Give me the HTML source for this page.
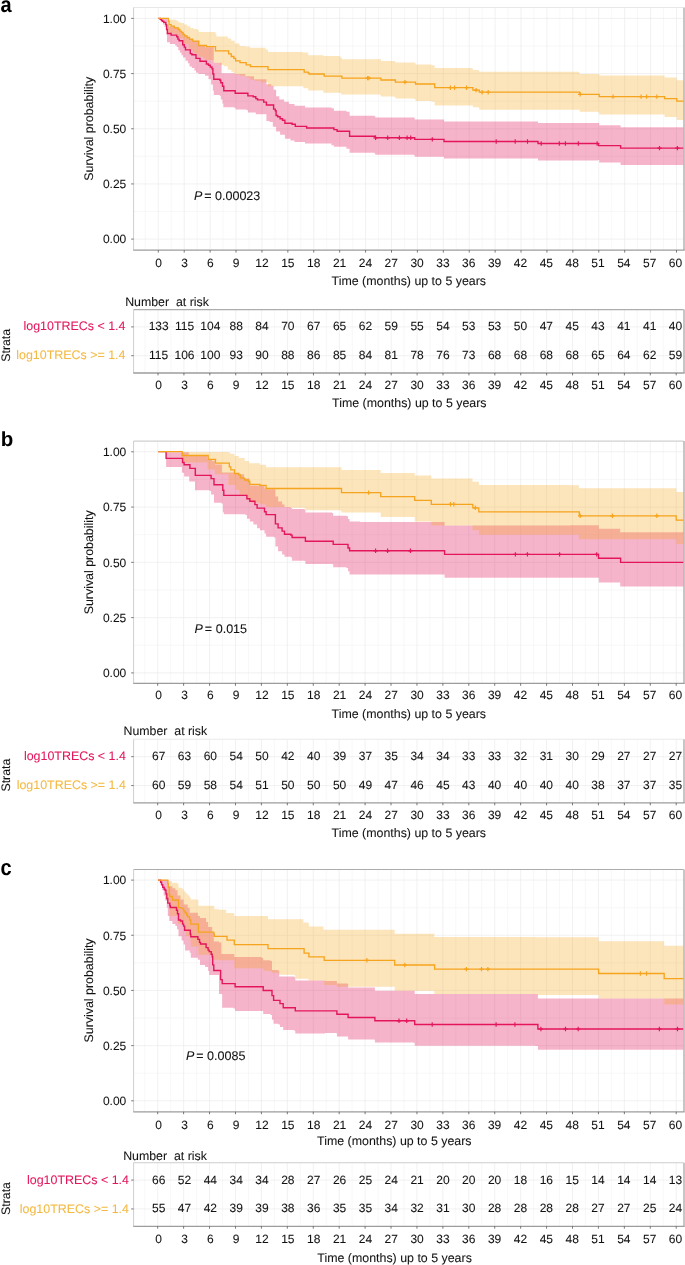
<!DOCTYPE html><html><head><meta charset="utf-8"><style>html,body{margin:0;padding:0;background:#fff;}svg{display:block;}text{font-family:"Liberation Sans", sans-serif;stroke-width:0.07px;paint-order:stroke;}</style></head><body>
<svg style="will-change:transform" text-rendering="geometricPrecision" width="685" height="1265" viewBox="0 0 685 1265">
<rect width="685" height="1265" fill="#fff"/>
<path d="M145.34 7.5V250.2M171.26 7.5V250.2M197.17 7.5V250.2M223.07 7.5V250.2M248.99 7.5V250.2M274.9 7.5V250.2M300.81 7.5V250.2M326.72 7.5V250.2M352.62 7.5V250.2M378.54 7.5V250.2M404.45 7.5V250.2M430.36 7.5V250.2M456.26 7.5V250.2M482.18 7.5V250.2M508.09 7.5V250.2M534 7.5V250.2M559.9 7.5V250.2M585.82 7.5V250.2M611.73 7.5V250.2M637.63 7.5V250.2M663.54 7.5V250.2M133.6 211.51H683.6M133.6 156.34H683.6M133.6 101.16H683.6M133.6 45.99H683.6" stroke="#F4F4F4" stroke-width="0.6" fill="none"/>
<path d="M158.3 7.5V250.2M184.21 7.5V250.2M210.12 7.5V250.2M236.03 7.5V250.2M261.94 7.5V250.2M287.85 7.5V250.2M313.76 7.5V250.2M339.67 7.5V250.2M365.58 7.5V250.2M391.49 7.5V250.2M417.4 7.5V250.2M443.31 7.5V250.2M469.22 7.5V250.2M495.13 7.5V250.2M521.04 7.5V250.2M546.95 7.5V250.2M572.86 7.5V250.2M598.77 7.5V250.2M624.68 7.5V250.2M650.59 7.5V250.2M676.5 7.5V250.2M133.6 239.1H683.6M133.6 183.93H683.6M133.6 128.75H683.6M133.6 73.58H683.6M133.6 18.4H683.6" stroke="#EBEBEB" stroke-width="0.7" fill="none"/>
<path d="M158.4 18.4H166V18.8H167.4V25H169V26.5H174.3V27.5H177.5V28H178.3V29.3H179.9V30.9H181.5V32.1H183.1V34.1H184.7V35.7H187.1V37.3H189.5V38.9H192.8V40.9H197.6V41.3H198.8V45.3H203.2V45.7H205V47.3H212.9V47.3H213.8V62.7H220.8V62.7H221.6V73.2H234.8V73.2H235.2V74H245.3V76.2H254V79.3H266.4V84.2H271.2V85.8H273.6V89.8H276.1V96.2H279.3V99.4H284.1V101.8H288.9V103.9H294.5V105.8H305V107.4H331.5V108.2H333.9V110.7H346.4V111.8H349.6V115.8H374.5V116.2H375.3V117.4H413.9V117.8H414.7V119.4H444V121.5H537.2V121.5H538V123.1H598.1V123H599.2V125.2H619.6V125.2H620.6V127.3H683.6V127.3L683.6 164.9V164.9H620.6V162.4H619.6V162.4H599.2V160H598.1V160.5H538V158.4H537.2V158.4H444V156.8H414.7V155.2H413.9V154.7H375.3V153.6H374.5V152.8H349.6V148.8H346.4V146.8H333.9V145.2H331.5V143.6H305V142H294.5V140.4H290.5V138.8H284.9V134.7H280.1V131.5H276.1V126.7H272.8V121.9H269.6V121.1H266.4V114.3H255.8V112.6H247.9V109.9H246.2V109.5H235.6V107.8H233.9V107.3H223.4V103.8H222.5V99.4H220.8V95.9H219.9V95.1H213.8V90.7H212.9V84.5H211.1V79.3H208.5V75.8H205V74H198.4V72.8H196V70.4H194.4V68H191.9V66.4H189.5V63.2H187.9V60.8H185.5V57.6H183.1V55.2H181.5V52.8H179.9V50.3H178.3V47.1H176.7V45.5H175.1V43.9H169.9V42.3H167V35.1H166.6V28.7H165.8V27H164.6V24.6H163V22.2H161.4V19.8H160.2V18.4H158.4Z" fill="#E3165B" fill-opacity="0.32"/>
<path d="M158.4 18.4H167.4V18.4H168.7V19H169.5V19.8H175.9V20.6H178.3V22.2H180.7V23H183.9V24.6H187.1V26.2H190.3V27.9H193.6V29.1H197.6V29.9H198.8V31.9H205V32H215.5V33.8H216.4V36.4H226V36.4H227.8V38.6H231.3V40.8H234.8V43.4H239.2V44.7H240V46H245.3V46.5H249.7V47.8H265.6V49.6H268V52H302.6V52.5H308.2V55.3H323.4V56.1H340.3V57.7H341.9V59.3H380.1V58.8H380.9V60.9H394.6V61.2H395.4V62.5H413.9V62.8H415.5V64.5H431.5V65.3H434.7V68H472.1V68.5H472.9V70.1H478.5V70.4H479.3V71.7H578.7V72.5H579.7V73.9H598.1V73.9H599.2V75.5H663.5V75.5H664.6V77.6H675.8V77.6H676.8V80.2H683.6V80.2L683.6 119.9V119.9H676.8V117H675.8V117H664.6V114.4H663.5V114.4H599.2V112.3H598.1V111.7H579.7V109.7H578.7V109.7H479.3V107.8H478.5V107.3H472.9V105.4H472.1V105.4H434.7V101.7H431.5V101.1H415.5V99H413.9V98.5H395.4V96.9H394.6V96.6H380.9V95H380.1V94.6H341.1V92.7H323.4V90.6H308.2V88.2H303.4V86.6H302.6V86.2H268V82.4H261V81H254.9V79.7H250.5V77.5H245.3V75.8H240V74.5H235.2V73H233.9V71.8H231.3V69.7H227.8V66.2H223.8V64.8H219.9V62.7H213.8V60H212.9V60H205V58.4H203.2V56.8H198.4V53.6H192.8V49.5H188.7V43.9H183.1V38.3H178.3V34.7H175.1V33.5H167.9V18.4H167.4V18.4H158.4Z" fill="#F5A41D" fill-opacity="0.3"/>
<path d="M158.4 18.4H160.2V19.4H161.4V20.5H162.6V21.4H163.8V22.4H165V22.4H165.8V24.6H166.6V29.5H167.4V33.5H171.1V35.1H175.1V35.1H176.7V36.7H177.9V39.1H179.1V40.7H181.1V40.7H182.7V44.7H184.3V47.1H185.5V49.9H188.7V49.9H190.3V53.6H191.9V54.8H194.8V54.8H196V58.4H200V61.2H204.4V61.2H206.4V64H208.5V65.3H210.3V67H212V68.8H212.9V74H213.8V79.3H219.9V80.2H220.8V82.8H222.5V86.3H223.8V90.7H233.9V90.7H235.2V93.3H246.2V93.3H247.9V95.9H253.2V96.8H255.8V98.6H257.5V99.9H261.9V99.9H263.7V102.1H266.4V105H271.2V105H273.6V109.1H275.3V110.7H276.1V115.5H277.7V116.8H280.1V118.7H282.5V120.3H284.9V123.2H290.5V123.2H292.1V124.3H294.5V124.3H295.3V126.4H305V126.4H306.6V128H331.5V128H333.9V129.6H337.1V131.2H346.4V131.2H349.6V136.2H374.5V136.2H375.3V137.8H413.9V137.8H414.7V139.4H444V141.5H537.2V141.5H538V143.5H597.1V143.5H598.5V145.6H619.6V145.6H620.6V148.1H683.6V148.1" stroke="#E3165B" stroke-width="1.4" fill="none"/>
<path d="M158.4 18.4H167.4V18.4H168.3V21.4H169.1V24.6H171.1V26.2H174.3V27.9H177.5V27.9H178.3V29.5H179.9V31.1H181.5V32.3H183.1V34.3H184.7V35.9H187.1V37.5H189.5V39.1H192.8V41.1H197.6V41.1H198.8V45.5H203.2V45.5H206.4V46.7H207.6V46.7H213.8V46.7H215.5V50.8H226V50.8H228.6V53.9H231.3V56.5H233.9V58.3H235.6V60.9H239.2V60.9H240V62.7H245.3V62.7H246.2V64.8H250.1V64.8H250.5V66.6H265.6V66.6H268V69.7H302.6V69.7H304.2V72.1H308.2V72.9H309V74H323.4V74H324.2V76.1H341.1V76.1H341.9V78.1H380.1V78.1H380.9V80H394.6V80H395.4V82.1H413.9V82.1H415.5V84H431.5V84H434.7V87.7H472.1V87.7H472.9V90.1H478.5V90.1H479.3V92.2H578.7V92.2H579.7V94.4H598.1V94.4H599.2V96.6H663.5V96.6H664.6V98.6H675.8V98.6H676.8V101.1H683.6V101.1" stroke="#F5A41D" stroke-width="1.3" fill="none"/>
<path d="M375.6 135.6V140M373.4 137.8H377.8" stroke="#E3165B" stroke-width="1.15"/>
<path d="M387.7 135.6V140M385.5 137.8H389.9" stroke="#E3165B" stroke-width="1.15"/>
<path d="M399.4 135.6V140M397.2 137.8H401.6" stroke="#E3165B" stroke-width="1.15"/>
<path d="M407.1 135.6V140M404.9 137.8H409.3" stroke="#E3165B" stroke-width="1.15"/>
<path d="M410.7 135.6V140M408.5 137.8H412.9" stroke="#E3165B" stroke-width="1.15"/>
<path d="M432.3 137.2V141.6M430.1 139.4H434.5" stroke="#E3165B" stroke-width="1.15"/>
<path d="M367.6 75.9V80.3M365.4 78.1H369.8" stroke="#F5A41D" stroke-width="1.15"/>
<path d="M368.9 75.9V80.3M366.7 78.1H371.1" stroke="#F5A41D" stroke-width="1.15"/>
<path d="M405 79.9V84.3M402.8 82.1H407.2" stroke="#F5A41D" stroke-width="1.15"/>
<path d="M496.2 139.3V143.7M494 141.5H498.4" stroke="#E3165B" stroke-width="1.15"/>
<path d="M515.2 139.3V143.7M513 141.5H517.4" stroke="#E3165B" stroke-width="1.15"/>
<path d="M527.5 139.3V143.7M525.3 141.5H529.7" stroke="#E3165B" stroke-width="1.15"/>
<path d="M541.2 141.3V145.7M539 143.5H543.4" stroke="#E3165B" stroke-width="1.15"/>
<path d="M450.4 85.5V89.9M448.2 87.7H452.6" stroke="#F5A41D" stroke-width="1.15"/>
<path d="M454.5 85.5V89.9M452.3 87.7H456.7" stroke="#F5A41D" stroke-width="1.15"/>
<path d="M466.5 85.5V89.9M464.3 87.7H468.7" stroke="#F5A41D" stroke-width="1.15"/>
<path d="M476.1 87.9V92.3M473.9 90.1H478.3" stroke="#F5A41D" stroke-width="1.15"/>
<path d="M482.1 90V94.4M479.9 92.2H484.3" stroke="#F5A41D" stroke-width="1.15"/>
<path d="M488.2 90V94.4M486 92.2H490.4" stroke="#F5A41D" stroke-width="1.15"/>
<path d="M559.3 141.3V145.7M557.1 143.5H561.5" stroke="#E3165B" stroke-width="1.15"/>
<path d="M565.4 141.3V145.7M563.2 143.5H567.6" stroke="#E3165B" stroke-width="1.15"/>
<path d="M578.3 141.3V145.7M576.1 143.5H580.5" stroke="#E3165B" stroke-width="1.15"/>
<path d="M597.1 141.3V145.7M594.9 143.5H599.3" stroke="#E3165B" stroke-width="1.15"/>
<path d="M659.5 145.9V150.3M657.3 148.1H661.7" stroke="#E3165B" stroke-width="1.15"/>
<path d="M677.4 145.9V150.3M675.2 148.1H679.6" stroke="#E3165B" stroke-width="1.15"/>
<path d="M580.2 92.2V96.6M578 94.4H582.4" stroke="#F5A41D" stroke-width="1.15"/>
<path d="M613.1 94.4V98.8M610.9 96.6H615.3" stroke="#F5A41D" stroke-width="1.15"/>
<path d="M641.1 94.4V98.8M638.9 96.6H643.3" stroke="#F5A41D" stroke-width="1.15"/>
<path d="M646.6 94.4V98.8M644.4 96.6H648.8" stroke="#F5A41D" stroke-width="1.15"/>
<path d="M656.8 94.4V98.8M654.6 96.6H659" stroke="#F5A41D" stroke-width="1.15"/>
<path d="M133.6 7.5H683.6" stroke="#E8E8E8" stroke-width="1.1" fill="none"/>
<path d="M133.6 250.2V7.5" stroke="#C2C2C2" stroke-width="0.8" fill="none"/>
<path d="M684 7.5V250.2" stroke="#A8A8A8" stroke-width="1.3" fill="none"/>
<path d="M133.3 250.2H684.6" stroke="#9C9C9C" stroke-width="1.2" fill="none"/>
<path d="M131.2 239.1H133.6M131.2 183.93H133.6M131.2 128.75H133.6M131.2 73.58H133.6M131.2 18.4H133.6M158.3 250.2V252.6M184.21 250.2V252.6M210.12 250.2V252.6M236.03 250.2V252.6M261.94 250.2V252.6M287.85 250.2V252.6M313.76 250.2V252.6M339.67 250.2V252.6M365.58 250.2V252.6M391.49 250.2V252.6M417.4 250.2V252.6M443.31 250.2V252.6M469.22 250.2V252.6M495.13 250.2V252.6M521.04 250.2V252.6M546.95 250.2V252.6M572.86 250.2V252.6M598.77 250.2V252.6M624.68 250.2V252.6M650.59 250.2V252.6M676.5 250.2V252.6" stroke="#555" stroke-width="0.8" fill="none"/>
<text x="126.3" y="243.4" font-size="12" text-anchor="end" fill="#111" stroke="#111">0.00</text>
<text x="126.3" y="188.23" font-size="12" text-anchor="end" fill="#111" stroke="#111">0.25</text>
<text x="126.3" y="133.05" font-size="12" text-anchor="end" fill="#111" stroke="#111">0.50</text>
<text x="126.3" y="77.88" font-size="12" text-anchor="end" fill="#111" stroke="#111">0.75</text>
<text x="126.3" y="22.7" font-size="12" text-anchor="end" fill="#111" stroke="#111">1.00</text>
<text x="158.65" y="266.8" font-size="12" text-anchor="middle" fill="#111" stroke="#111">0</text>
<text x="184.5" y="266.8" font-size="12" text-anchor="middle" fill="#111" stroke="#111">3</text>
<text x="210.34" y="266.8" font-size="12" text-anchor="middle" fill="#111" stroke="#111">6</text>
<text x="236.19" y="266.8" font-size="12" text-anchor="middle" fill="#111" stroke="#111">9</text>
<text x="262.03" y="266.8" font-size="12" text-anchor="middle" fill="#111" stroke="#111">12</text>
<text x="287.88" y="266.8" font-size="12" text-anchor="middle" fill="#111" stroke="#111">15</text>
<text x="313.72" y="266.8" font-size="12" text-anchor="middle" fill="#111" stroke="#111">18</text>
<text x="339.56" y="266.8" font-size="12" text-anchor="middle" fill="#111" stroke="#111">21</text>
<text x="365.41" y="266.8" font-size="12" text-anchor="middle" fill="#111" stroke="#111">24</text>
<text x="391.25" y="266.8" font-size="12" text-anchor="middle" fill="#111" stroke="#111">27</text>
<text x="417.1" y="266.8" font-size="12" text-anchor="middle" fill="#111" stroke="#111">30</text>
<text x="442.95" y="266.8" font-size="12" text-anchor="middle" fill="#111" stroke="#111">33</text>
<text x="468.79" y="266.8" font-size="12" text-anchor="middle" fill="#111" stroke="#111">36</text>
<text x="494.63" y="266.8" font-size="12" text-anchor="middle" fill="#111" stroke="#111">39</text>
<text x="520.48" y="266.8" font-size="12" text-anchor="middle" fill="#111" stroke="#111">42</text>
<text x="546.32" y="266.8" font-size="12" text-anchor="middle" fill="#111" stroke="#111">45</text>
<text x="572.17" y="266.8" font-size="12" text-anchor="middle" fill="#111" stroke="#111">48</text>
<text x="598.01" y="266.8" font-size="12" text-anchor="middle" fill="#111" stroke="#111">51</text>
<text x="623.86" y="266.8" font-size="12" text-anchor="middle" fill="#111" stroke="#111">54</text>
<text x="649.71" y="266.8" font-size="12" text-anchor="middle" fill="#111" stroke="#111">57</text>
<text x="675.55" y="266.8" font-size="12" text-anchor="middle" fill="#111" stroke="#111">60</text>
<text x="408.8" y="285.2" font-size="12.4" text-anchor="middle" fill="#111" stroke="#111">Time (months) up to 5 years</text>
<text transform="translate(92.9 128.75) rotate(-90)" font-size="12.4" text-anchor="middle" fill="#111" stroke="#111">Survival probability</text>
<text x="193.9" y="199.6" font-size="12.55" fill="#111" stroke="#111"><tspan font-style="italic">P</tspan><tspan dx="-1.6">&#160;= 0.00023</tspan></text>
<path d="M145.04 309.6V373M170.96 309.6V373M196.87 309.6V373M222.77 309.6V373M248.69 309.6V373M274.6 309.6V373M300.5 309.6V373M326.41 309.6V373M352.33 309.6V373M378.24 309.6V373M404.14 309.6V373M430.06 309.6V373M455.96 309.6V373M481.88 309.6V373M507.79 309.6V373M533.69 309.6V373M559.61 309.6V373M585.52 309.6V373M611.42 309.6V373M637.34 309.6V373M663.24 309.6V373" stroke="#F4F4F4" stroke-width="0.6" fill="none"/>
<path d="M158 309.6V373M183.91 309.6V373M209.82 309.6V373M235.73 309.6V373M261.64 309.6V373M287.55 309.6V373M313.46 309.6V373M339.37 309.6V373M365.28 309.6V373M391.19 309.6V373M417.1 309.6V373M443.01 309.6V373M468.92 309.6V373M494.83 309.6V373M520.74 309.6V373M546.65 309.6V373M572.56 309.6V373M598.47 309.6V373M624.38 309.6V373M650.29 309.6V373M676.2 309.6V373M133.6 326.89H683.6M133.6 355.71H683.6" stroke="#EBEBEB" stroke-width="0.7" fill="none"/>
<path d="M133.6 309.6H683.6" stroke="#ADADAD" stroke-width="1.1" fill="none"/>
<path d="M133.6 373V309.6" stroke="#C2C2C2" stroke-width="0.8" fill="none"/>
<path d="M684 309.6V373" stroke="#A8A8A8" stroke-width="1.3" fill="none"/>
<path d="M133.3 373H684.6" stroke="#9C9C9C" stroke-width="1.3" fill="none"/>
<path d="M131.2 326.89H133.6M131.2 355.71H133.6M158 373V375.4M183.91 373V375.4M209.82 373V375.4M235.73 373V375.4M261.64 373V375.4M287.55 373V375.4M313.46 373V375.4M339.37 373V375.4M365.28 373V375.4M391.19 373V375.4M417.1 373V375.4M443.01 373V375.4M468.92 373V375.4M494.83 373V375.4M520.74 373V375.4M546.65 373V375.4M572.56 373V375.4M598.47 373V375.4M624.38 373V375.4M650.29 373V375.4M676.2 373V375.4" stroke="#555" stroke-width="0.8" fill="none"/>
<text x="158.65" y="330.39" font-size="12" text-anchor="middle" fill="#111" stroke="#111">133</text>
<text x="184.5" y="330.39" font-size="12" text-anchor="middle" fill="#111" stroke="#111">115</text>
<text x="210.34" y="330.39" font-size="12" text-anchor="middle" fill="#111" stroke="#111">104</text>
<text x="236.19" y="330.39" font-size="12" text-anchor="middle" fill="#111" stroke="#111">88</text>
<text x="262.03" y="330.39" font-size="12" text-anchor="middle" fill="#111" stroke="#111">84</text>
<text x="287.88" y="330.39" font-size="12" text-anchor="middle" fill="#111" stroke="#111">70</text>
<text x="313.72" y="330.39" font-size="12" text-anchor="middle" fill="#111" stroke="#111">67</text>
<text x="339.56" y="330.39" font-size="12" text-anchor="middle" fill="#111" stroke="#111">65</text>
<text x="365.41" y="330.39" font-size="12" text-anchor="middle" fill="#111" stroke="#111">62</text>
<text x="391.25" y="330.39" font-size="12" text-anchor="middle" fill="#111" stroke="#111">59</text>
<text x="417.1" y="330.39" font-size="12" text-anchor="middle" fill="#111" stroke="#111">55</text>
<text x="442.95" y="330.39" font-size="12" text-anchor="middle" fill="#111" stroke="#111">54</text>
<text x="468.79" y="330.39" font-size="12" text-anchor="middle" fill="#111" stroke="#111">53</text>
<text x="494.63" y="330.39" font-size="12" text-anchor="middle" fill="#111" stroke="#111">53</text>
<text x="520.48" y="330.39" font-size="12" text-anchor="middle" fill="#111" stroke="#111">50</text>
<text x="546.32" y="330.39" font-size="12" text-anchor="middle" fill="#111" stroke="#111">47</text>
<text x="572.17" y="330.39" font-size="12" text-anchor="middle" fill="#111" stroke="#111">45</text>
<text x="598.01" y="330.39" font-size="12" text-anchor="middle" fill="#111" stroke="#111">43</text>
<text x="623.86" y="330.39" font-size="12" text-anchor="middle" fill="#111" stroke="#111">41</text>
<text x="649.71" y="330.39" font-size="12" text-anchor="middle" fill="#111" stroke="#111">41</text>
<text x="675.55" y="330.39" font-size="12" text-anchor="middle" fill="#111" stroke="#111">40</text>
<text x="158.65" y="359.21" font-size="12" text-anchor="middle" fill="#111" stroke="#111">115</text>
<text x="184.5" y="359.21" font-size="12" text-anchor="middle" fill="#111" stroke="#111">106</text>
<text x="210.34" y="359.21" font-size="12" text-anchor="middle" fill="#111" stroke="#111">100</text>
<text x="236.19" y="359.21" font-size="12" text-anchor="middle" fill="#111" stroke="#111">93</text>
<text x="262.03" y="359.21" font-size="12" text-anchor="middle" fill="#111" stroke="#111">90</text>
<text x="287.88" y="359.21" font-size="12" text-anchor="middle" fill="#111" stroke="#111">88</text>
<text x="313.72" y="359.21" font-size="12" text-anchor="middle" fill="#111" stroke="#111">86</text>
<text x="339.56" y="359.21" font-size="12" text-anchor="middle" fill="#111" stroke="#111">85</text>
<text x="365.41" y="359.21" font-size="12" text-anchor="middle" fill="#111" stroke="#111">84</text>
<text x="391.25" y="359.21" font-size="12" text-anchor="middle" fill="#111" stroke="#111">81</text>
<text x="417.1" y="359.21" font-size="12" text-anchor="middle" fill="#111" stroke="#111">78</text>
<text x="442.95" y="359.21" font-size="12" text-anchor="middle" fill="#111" stroke="#111">76</text>
<text x="468.79" y="359.21" font-size="12" text-anchor="middle" fill="#111" stroke="#111">73</text>
<text x="494.63" y="359.21" font-size="12" text-anchor="middle" fill="#111" stroke="#111">68</text>
<text x="520.48" y="359.21" font-size="12" text-anchor="middle" fill="#111" stroke="#111">68</text>
<text x="546.32" y="359.21" font-size="12" text-anchor="middle" fill="#111" stroke="#111">68</text>
<text x="572.17" y="359.21" font-size="12" text-anchor="middle" fill="#111" stroke="#111">68</text>
<text x="598.01" y="359.21" font-size="12" text-anchor="middle" fill="#111" stroke="#111">65</text>
<text x="623.86" y="359.21" font-size="12" text-anchor="middle" fill="#111" stroke="#111">64</text>
<text x="649.71" y="359.21" font-size="12" text-anchor="middle" fill="#111" stroke="#111">62</text>
<text x="675.55" y="359.21" font-size="12" text-anchor="middle" fill="#111" stroke="#111">59</text>
<text x="125.5" y="329.89" font-size="12.45" text-anchor="end" fill="#E3165B" stroke="#E3165B">log10TRECs &lt; 1.4</text>
<text x="125.5" y="358.71" font-size="12.45" text-anchor="end" fill="#F4B942" stroke="#F4B942">log10TRECs &gt;= 1.4</text>
<text transform="translate(9.6 345.3) rotate(-90)" font-size="12.3" text-anchor="middle" fill="#111" stroke="#111">Strata</text>
<text x="125.2" y="305.8" font-size="12.35" fill="#111" stroke="#111" style="white-space:pre">Number  at risk</text>
<text x="158.65" y="388.7" font-size="12" text-anchor="middle" fill="#111" stroke="#111">0</text>
<text x="184.5" y="388.7" font-size="12" text-anchor="middle" fill="#111" stroke="#111">3</text>
<text x="210.34" y="388.7" font-size="12" text-anchor="middle" fill="#111" stroke="#111">6</text>
<text x="236.19" y="388.7" font-size="12" text-anchor="middle" fill="#111" stroke="#111">9</text>
<text x="262.03" y="388.7" font-size="12" text-anchor="middle" fill="#111" stroke="#111">12</text>
<text x="287.88" y="388.7" font-size="12" text-anchor="middle" fill="#111" stroke="#111">15</text>
<text x="313.72" y="388.7" font-size="12" text-anchor="middle" fill="#111" stroke="#111">18</text>
<text x="339.56" y="388.7" font-size="12" text-anchor="middle" fill="#111" stroke="#111">21</text>
<text x="365.41" y="388.7" font-size="12" text-anchor="middle" fill="#111" stroke="#111">24</text>
<text x="391.25" y="388.7" font-size="12" text-anchor="middle" fill="#111" stroke="#111">27</text>
<text x="417.1" y="388.7" font-size="12" text-anchor="middle" fill="#111" stroke="#111">30</text>
<text x="442.95" y="388.7" font-size="12" text-anchor="middle" fill="#111" stroke="#111">33</text>
<text x="468.79" y="388.7" font-size="12" text-anchor="middle" fill="#111" stroke="#111">36</text>
<text x="494.63" y="388.7" font-size="12" text-anchor="middle" fill="#111" stroke="#111">39</text>
<text x="520.48" y="388.7" font-size="12" text-anchor="middle" fill="#111" stroke="#111">42</text>
<text x="546.32" y="388.7" font-size="12" text-anchor="middle" fill="#111" stroke="#111">45</text>
<text x="572.17" y="388.7" font-size="12" text-anchor="middle" fill="#111" stroke="#111">48</text>
<text x="598.01" y="388.7" font-size="12" text-anchor="middle" fill="#111" stroke="#111">51</text>
<text x="623.86" y="388.7" font-size="12" text-anchor="middle" fill="#111" stroke="#111">54</text>
<text x="649.71" y="388.7" font-size="12" text-anchor="middle" fill="#111" stroke="#111">57</text>
<text x="675.55" y="388.7" font-size="12" text-anchor="middle" fill="#111" stroke="#111">60</text>
<text x="409.3" y="407.4" font-size="12.4" text-anchor="middle" fill="#111" stroke="#111">Time (months) up to 5 years</text>
<path d="M144.74 441.1V683.4M170.66 441.1V683.4M196.59 441.1V683.4M222.51 441.1V683.4M248.44 441.1V683.4M274.36 441.1V683.4M300.29 441.1V683.4M326.21 441.1V683.4M352.14 441.1V683.4M378.06 441.1V683.4M403.99 441.1V683.4M429.91 441.1V683.4M455.84 441.1V683.4M481.76 441.1V683.4M507.69 441.1V683.4M533.61 441.1V683.4M559.54 441.1V683.4M585.46 441.1V683.4M611.39 441.1V683.4M637.31 441.1V683.4M663.24 441.1V683.4M133.6 645.26H683.6M133.6 589.99H683.6M133.6 534.71H683.6M133.6 479.44H683.6" stroke="#F4F4F4" stroke-width="0.6" fill="none"/>
<path d="M157.7 441.1V683.4M183.62 441.1V683.4M209.55 441.1V683.4M235.47 441.1V683.4M261.4 441.1V683.4M287.32 441.1V683.4M313.25 441.1V683.4M339.18 441.1V683.4M365.1 441.1V683.4M391.02 441.1V683.4M416.95 441.1V683.4M442.88 441.1V683.4M468.8 441.1V683.4M494.73 441.1V683.4M520.65 441.1V683.4M546.58 441.1V683.4M572.5 441.1V683.4M598.42 441.1V683.4M624.35 441.1V683.4M650.28 441.1V683.4M676.2 441.1V683.4M133.6 672.9H683.6M133.6 617.62H683.6M133.6 562.35H683.6M133.6 507.07H683.6M133.6 451.8H683.6" stroke="#EBEBEB" stroke-width="0.7" fill="none"/>
<path d="M158 451.8H166.1V452.3H188.8V456.1H207.4V459.3H212V460.8H214.9V464.5H221.9V472.5H233.9V472.9H239V474.3H244.1V478.4H249.6V481.6H250V485.5H259.9V485.1H260V485H262.8V485.3H264.5V488.5H266.1V489.3H274.1V489.3H275.4V496.6H278.1V501.4H282.1V504.6H284.5V507H290.9V508.1H292.1V509.1H304.6V509.7H305.4V512.6H331.9V512.9H333.2V515.8H346.4V516.2H348V519.1H349.6V521.5H360V521.9H444.1V521.9H444.6V525.5H465V525.5H569.9V525.2H598.1V525.2H598.8V528.7H619.6V528.7H620.2V532.2H683.6V532.2L683.6 586.5V586.5H620.2V582.4H619.6V582.4H598.8V577.7H598.1V577.7H569.9V577.7H465V577.7H444.6V574.5H444.1V574.5H360V574.5H349.6V571.2H348V568H346.4V567.2H333.2V564.3H331.9V564H305.4V561.1H304.6V560.8H292.1V557.6H290.9V556.8H284.5V554.4H282.1V551.2H278.1V546.4H275.4V537.5H274.1V536.7H266.1V533.5H264.5V530.3H262.8V530.3H260V528.2H257.1V524.6H253.4V521.6H249.8V518.7H246.9V515.1H245.4V514.3H223.8V512.2H222.8V503.4H221.3V502.7H214V494.6H211.1V491H209.6V490.3H195V481.5H189.2V476.4H184.1V472.7H181.9V466.9H181.2V466.9H166.1V451.6H165.5V451.6H158.4Z" fill="#E3165B" fill-opacity="0.32"/>
<path d="M158.4 451.6H181.9V451.6H182.6V452H228.6V452.6H230.1V453.8H234.5V455.9H238.8V458.1H244.7V461.1H249.1V463.2H260V464.8H265.3V464.8H266.1V467.3H340.7V467.3H341.5V470.1H360V470.1H379.9V470.1H380.7V473H414.1V473H414.7V475.4H430.5V475.4H431.3V478.6H465V478.6H472V478.6H472.5V481.8H478.5V481.8H478.9V485H569.9V485.2H578.3V485.2H578.9V488.2H675.8V488.2H676.4V491.9H683.6V491.9L683.6 544V544H676.4V539.3H675.8V539.3H578.9V534.8H578.3V534.8H569.9V534.8H478.9V530.3H478.5V530.3H472.5V525.5H472V525.5H465V525.5H431.3V521.5H430.5V521.5H414.7V517.1H414.1V517.1H380.7V512.6H379.9V512.6H360V512.6H341.5V511H340.7V510.2H305.4V508.6H304.6V507.8H290.1V507H266.1V504.6H265.3V504.3H260V504H259.9V502.4H250V499.5H247V495.1H239.4V489.7H235.7V484.9H228.4V474.3H214.9V469.6H212V469.3H207.4V462.6H181.4V451.8H158Z" fill="#F5A41D" fill-opacity="0.3"/>
<path d="M158.4 451.6H165.5V451.6H166.1V458.4H181.2V458.4H182.6V462.5H184.1V464.7H188.5V464.7H189.9V468.4H194.3V468.4H195.3V475.4H209.6V475.4H211.1V478.6H213.3V478.6H214V484.7H221.3V484.7H222.8V490.3H223.8V495.4H245.4V495.4H246.9V498.7H249.8V501.2H253.4V501.2H254.9V504.6H257.1V508.1H260V508.1H262.8V508.1H264.5V511.8H266.1V514.6H274.1V514.6H275.4V523.9H278.1V527.9H282.1V531.1H284.5V534.3H290.9V535.1H292.1V537.5H304.6V537.5H305.4V541.2H331.9V541.2H333.2V544.4H346.4V544.4H348V548H349.6V550.8H360V550.8H444.1V550.8H444.6V554.4H465V554.4H569.9V554.4H597.1V554.4H598.5V558.3H619.6V558.3H620.6V562.4H683.6V562.4" stroke="#E3165B" stroke-width="1.4" fill="none"/>
<path d="M158.4 451.6H181.6V451.6H182.2V455.5H207.4V455.5H208.2V459.3H214.7V459.3H215.5V463.2H227.9V463.2H229.3V466.9H230.8V469.8H234.5V473.5H238.8V474.9H240.3V477.8H243.9V478.6H244.7V480H248.3V481.5H249.8V484.4H260V485.3H264.5V485.3H266.1V488.5H340.7V488.5H341.5V492.6H360V492.6H379.9V492.6H380.7V496.6H414.4V496.6H414.7V500.3H430.5V500.3H431.3V504.3H465V504.3H472V504.3H472.8V507.8H477.7V507.8H478.8V511.8H569.9V511.8H578.3V511.8H579.3V515.8H675.4V515.8H676.2V520.1H683.6V520.1" stroke="#F5A41D" stroke-width="1.3" fill="none"/>
<path d="M375.6 548.6V553M373.4 550.8H377.8" stroke="#E3165B" stroke-width="1.15"/>
<path d="M387.6 548.6V553M385.4 550.8H389.8" stroke="#E3165B" stroke-width="1.15"/>
<path d="M410.4 548.6V553M408.2 550.8H412.6" stroke="#E3165B" stroke-width="1.15"/>
<path d="M368.6 490.4V494.8M366.4 492.6H370.8" stroke="#F5A41D" stroke-width="1.15"/>
<path d="M450.5 502.1V506.5M448.3 504.3H452.7" stroke="#F5A41D" stroke-width="1.15"/>
<path d="M453.8 502.1V506.5M451.6 504.3H456" stroke="#F5A41D" stroke-width="1.15"/>
<path d="M515.4 552.2V556.6M513.2 554.4H517.6" stroke="#E3165B" stroke-width="1.15"/>
<path d="M527.4 552.2V556.6M525.2 554.4H529.6" stroke="#E3165B" stroke-width="1.15"/>
<path d="M559.6 552.2V556.6M557.4 554.4H561.8" stroke="#E3165B" stroke-width="1.15"/>
<path d="M475.3 505.6V510M473.1 507.8H477.5" stroke="#F5A41D" stroke-width="1.15"/>
<path d="M596.7 552.2V556.6M594.5 554.4H598.9" stroke="#E3165B" stroke-width="1.15"/>
<path d="M580.2 513.6V518M578 515.8H582.4" stroke="#F5A41D" stroke-width="1.15"/>
<path d="M612.4 513.6V518M610.2 515.8H614.6" stroke="#F5A41D" stroke-width="1.15"/>
<path d="M656.8 513.6V518M654.6 515.8H659" stroke="#F5A41D" stroke-width="1.15"/>
<path d="M133.6 441.1H683.6" stroke="#D0D0D0" stroke-width="1.1" fill="none"/>
<path d="M133.6 683.4V441.1" stroke="#C2C2C2" stroke-width="0.8" fill="none"/>
<path d="M684 441.1V683.4" stroke="#A8A8A8" stroke-width="1.3" fill="none"/>
<path d="M133.3 683.4H684.6" stroke="#9C9C9C" stroke-width="1.2" fill="none"/>
<path d="M131.2 672.9H133.6M131.2 617.62H133.6M131.2 562.35H133.6M131.2 507.07H133.6M131.2 451.8H133.6M157.7 683.4V685.8M183.62 683.4V685.8M209.55 683.4V685.8M235.47 683.4V685.8M261.4 683.4V685.8M287.32 683.4V685.8M313.25 683.4V685.8M339.18 683.4V685.8M365.1 683.4V685.8M391.02 683.4V685.8M416.95 683.4V685.8M442.88 683.4V685.8M468.8 683.4V685.8M494.73 683.4V685.8M520.65 683.4V685.8M546.58 683.4V685.8M572.5 683.4V685.8M598.42 683.4V685.8M624.35 683.4V685.8M650.28 683.4V685.8M676.2 683.4V685.8" stroke="#555" stroke-width="0.8" fill="none"/>
<text x="126.3" y="677.2" font-size="12" text-anchor="end" fill="#111" stroke="#111">0.00</text>
<text x="126.3" y="621.92" font-size="12" text-anchor="end" fill="#111" stroke="#111">0.25</text>
<text x="126.3" y="566.65" font-size="12" text-anchor="end" fill="#111" stroke="#111">0.50</text>
<text x="126.3" y="511.38" font-size="12" text-anchor="end" fill="#111" stroke="#111">0.75</text>
<text x="126.3" y="456.1" font-size="12" text-anchor="end" fill="#111" stroke="#111">1.00</text>
<text x="158.65" y="699.3" font-size="12" text-anchor="middle" fill="#111" stroke="#111">0</text>
<text x="184.5" y="699.3" font-size="12" text-anchor="middle" fill="#111" stroke="#111">3</text>
<text x="210.34" y="699.3" font-size="12" text-anchor="middle" fill="#111" stroke="#111">6</text>
<text x="236.19" y="699.3" font-size="12" text-anchor="middle" fill="#111" stroke="#111">9</text>
<text x="262.03" y="699.3" font-size="12" text-anchor="middle" fill="#111" stroke="#111">12</text>
<text x="287.88" y="699.3" font-size="12" text-anchor="middle" fill="#111" stroke="#111">15</text>
<text x="313.72" y="699.3" font-size="12" text-anchor="middle" fill="#111" stroke="#111">18</text>
<text x="339.56" y="699.3" font-size="12" text-anchor="middle" fill="#111" stroke="#111">21</text>
<text x="365.41" y="699.3" font-size="12" text-anchor="middle" fill="#111" stroke="#111">24</text>
<text x="391.25" y="699.3" font-size="12" text-anchor="middle" fill="#111" stroke="#111">27</text>
<text x="417.1" y="699.3" font-size="12" text-anchor="middle" fill="#111" stroke="#111">30</text>
<text x="442.95" y="699.3" font-size="12" text-anchor="middle" fill="#111" stroke="#111">33</text>
<text x="468.79" y="699.3" font-size="12" text-anchor="middle" fill="#111" stroke="#111">36</text>
<text x="494.63" y="699.3" font-size="12" text-anchor="middle" fill="#111" stroke="#111">39</text>
<text x="520.48" y="699.3" font-size="12" text-anchor="middle" fill="#111" stroke="#111">42</text>
<text x="546.32" y="699.3" font-size="12" text-anchor="middle" fill="#111" stroke="#111">45</text>
<text x="572.17" y="699.3" font-size="12" text-anchor="middle" fill="#111" stroke="#111">48</text>
<text x="598.01" y="699.3" font-size="12" text-anchor="middle" fill="#111" stroke="#111">51</text>
<text x="623.86" y="699.3" font-size="12" text-anchor="middle" fill="#111" stroke="#111">54</text>
<text x="649.71" y="699.3" font-size="12" text-anchor="middle" fill="#111" stroke="#111">57</text>
<text x="675.55" y="699.3" font-size="12" text-anchor="middle" fill="#111" stroke="#111">60</text>
<text x="408.8" y="717.9" font-size="12.4" text-anchor="middle" fill="#111" stroke="#111">Time (months) up to 5 years</text>
<text transform="translate(92.9 562.35) rotate(-90)" font-size="12.4" text-anchor="middle" fill="#111" stroke="#111">Survival probability</text>
<text x="194.6" y="632.7" font-size="12.55" fill="#111" stroke="#111"><tspan font-style="italic">P</tspan><tspan dx="-1.6">&#160;= 0.015</tspan></text>
<path d="M144.74 739.3V802.9M170.66 739.3V802.9M196.59 739.3V802.9M222.51 739.3V802.9M248.44 739.3V802.9M274.36 739.3V802.9M300.29 739.3V802.9M326.21 739.3V802.9M352.14 739.3V802.9M378.06 739.3V802.9M403.99 739.3V802.9M429.91 739.3V802.9M455.84 739.3V802.9M481.76 739.3V802.9M507.69 739.3V802.9M533.61 739.3V802.9M559.54 739.3V802.9M585.46 739.3V802.9M611.39 739.3V802.9M637.31 739.3V802.9M663.24 739.3V802.9" stroke="#F4F4F4" stroke-width="0.6" fill="none"/>
<path d="M157.7 739.3V802.9M183.62 739.3V802.9M209.55 739.3V802.9M235.47 739.3V802.9M261.4 739.3V802.9M287.32 739.3V802.9M313.25 739.3V802.9M339.18 739.3V802.9M365.1 739.3V802.9M391.02 739.3V802.9M416.95 739.3V802.9M442.88 739.3V802.9M468.8 739.3V802.9M494.73 739.3V802.9M520.65 739.3V802.9M546.58 739.3V802.9M572.5 739.3V802.9M598.42 739.3V802.9M624.35 739.3V802.9M650.28 739.3V802.9M676.2 739.3V802.9M133.6 756.65H683.6M133.6 785.55H683.6" stroke="#EBEBEB" stroke-width="0.7" fill="none"/>
<path d="M133.6 739.3H683.6" stroke="#EAEAEA" stroke-width="1.1" fill="none"/>
<path d="M133.6 802.9V739.3" stroke="#C2C2C2" stroke-width="0.8" fill="none"/>
<path d="M684 739.3V802.9" stroke="#A8A8A8" stroke-width="1.3" fill="none"/>
<path d="M133.3 802.9H684.6" stroke="#9C9C9C" stroke-width="1.3" fill="none"/>
<path d="M131.2 756.65H133.6M131.2 785.55H133.6M157.7 802.9V805.3M183.62 802.9V805.3M209.55 802.9V805.3M235.47 802.9V805.3M261.4 802.9V805.3M287.32 802.9V805.3M313.25 802.9V805.3M339.18 802.9V805.3M365.1 802.9V805.3M391.02 802.9V805.3M416.95 802.9V805.3M442.88 802.9V805.3M468.8 802.9V805.3M494.73 802.9V805.3M520.65 802.9V805.3M546.58 802.9V805.3M572.5 802.9V805.3M598.42 802.9V805.3M624.35 802.9V805.3M650.28 802.9V805.3M676.2 802.9V805.3" stroke="#555" stroke-width="0.8" fill="none"/>
<text x="158.65" y="760.15" font-size="12" text-anchor="middle" fill="#111" stroke="#111">67</text>
<text x="184.5" y="760.15" font-size="12" text-anchor="middle" fill="#111" stroke="#111">63</text>
<text x="210.34" y="760.15" font-size="12" text-anchor="middle" fill="#111" stroke="#111">60</text>
<text x="236.19" y="760.15" font-size="12" text-anchor="middle" fill="#111" stroke="#111">54</text>
<text x="262.03" y="760.15" font-size="12" text-anchor="middle" fill="#111" stroke="#111">50</text>
<text x="287.88" y="760.15" font-size="12" text-anchor="middle" fill="#111" stroke="#111">42</text>
<text x="313.72" y="760.15" font-size="12" text-anchor="middle" fill="#111" stroke="#111">40</text>
<text x="339.56" y="760.15" font-size="12" text-anchor="middle" fill="#111" stroke="#111">39</text>
<text x="365.41" y="760.15" font-size="12" text-anchor="middle" fill="#111" stroke="#111">37</text>
<text x="391.25" y="760.15" font-size="12" text-anchor="middle" fill="#111" stroke="#111">35</text>
<text x="417.1" y="760.15" font-size="12" text-anchor="middle" fill="#111" stroke="#111">34</text>
<text x="442.95" y="760.15" font-size="12" text-anchor="middle" fill="#111" stroke="#111">34</text>
<text x="468.79" y="760.15" font-size="12" text-anchor="middle" fill="#111" stroke="#111">33</text>
<text x="494.63" y="760.15" font-size="12" text-anchor="middle" fill="#111" stroke="#111">33</text>
<text x="520.48" y="760.15" font-size="12" text-anchor="middle" fill="#111" stroke="#111">32</text>
<text x="546.32" y="760.15" font-size="12" text-anchor="middle" fill="#111" stroke="#111">31</text>
<text x="572.17" y="760.15" font-size="12" text-anchor="middle" fill="#111" stroke="#111">30</text>
<text x="598.01" y="760.15" font-size="12" text-anchor="middle" fill="#111" stroke="#111">29</text>
<text x="623.86" y="760.15" font-size="12" text-anchor="middle" fill="#111" stroke="#111">27</text>
<text x="649.71" y="760.15" font-size="12" text-anchor="middle" fill="#111" stroke="#111">27</text>
<text x="675.55" y="760.15" font-size="12" text-anchor="middle" fill="#111" stroke="#111">27</text>
<text x="158.65" y="789.05" font-size="12" text-anchor="middle" fill="#111" stroke="#111">60</text>
<text x="184.5" y="789.05" font-size="12" text-anchor="middle" fill="#111" stroke="#111">59</text>
<text x="210.34" y="789.05" font-size="12" text-anchor="middle" fill="#111" stroke="#111">58</text>
<text x="236.19" y="789.05" font-size="12" text-anchor="middle" fill="#111" stroke="#111">54</text>
<text x="262.03" y="789.05" font-size="12" text-anchor="middle" fill="#111" stroke="#111">51</text>
<text x="287.88" y="789.05" font-size="12" text-anchor="middle" fill="#111" stroke="#111">50</text>
<text x="313.72" y="789.05" font-size="12" text-anchor="middle" fill="#111" stroke="#111">50</text>
<text x="339.56" y="789.05" font-size="12" text-anchor="middle" fill="#111" stroke="#111">50</text>
<text x="365.41" y="789.05" font-size="12" text-anchor="middle" fill="#111" stroke="#111">49</text>
<text x="391.25" y="789.05" font-size="12" text-anchor="middle" fill="#111" stroke="#111">47</text>
<text x="417.1" y="789.05" font-size="12" text-anchor="middle" fill="#111" stroke="#111">46</text>
<text x="442.95" y="789.05" font-size="12" text-anchor="middle" fill="#111" stroke="#111">45</text>
<text x="468.79" y="789.05" font-size="12" text-anchor="middle" fill="#111" stroke="#111">43</text>
<text x="494.63" y="789.05" font-size="12" text-anchor="middle" fill="#111" stroke="#111">40</text>
<text x="520.48" y="789.05" font-size="12" text-anchor="middle" fill="#111" stroke="#111">40</text>
<text x="546.32" y="789.05" font-size="12" text-anchor="middle" fill="#111" stroke="#111">40</text>
<text x="572.17" y="789.05" font-size="12" text-anchor="middle" fill="#111" stroke="#111">40</text>
<text x="598.01" y="789.05" font-size="12" text-anchor="middle" fill="#111" stroke="#111">38</text>
<text x="623.86" y="789.05" font-size="12" text-anchor="middle" fill="#111" stroke="#111">37</text>
<text x="649.71" y="789.05" font-size="12" text-anchor="middle" fill="#111" stroke="#111">37</text>
<text x="675.55" y="789.05" font-size="12" text-anchor="middle" fill="#111" stroke="#111">35</text>
<text x="125.9" y="759.65" font-size="12.45" text-anchor="end" fill="#E3165B" stroke="#E3165B">log10TRECs &lt; 1.4</text>
<text x="125.9" y="788.55" font-size="12.45" text-anchor="end" fill="#F4B942" stroke="#F4B942">log10TRECs &gt;= 1.4</text>
<text transform="translate(9.6 775.1) rotate(-90)" font-size="12.3" text-anchor="middle" fill="#111" stroke="#111">Strata</text>
<text x="123.5" y="735" font-size="12.35" fill="#111" stroke="#111" style="white-space:pre">Number  at risk</text>
<text x="158.65" y="818.9" font-size="12" text-anchor="middle" fill="#111" stroke="#111">0</text>
<text x="184.5" y="818.9" font-size="12" text-anchor="middle" fill="#111" stroke="#111">3</text>
<text x="210.34" y="818.9" font-size="12" text-anchor="middle" fill="#111" stroke="#111">6</text>
<text x="236.19" y="818.9" font-size="12" text-anchor="middle" fill="#111" stroke="#111">9</text>
<text x="262.03" y="818.9" font-size="12" text-anchor="middle" fill="#111" stroke="#111">12</text>
<text x="287.88" y="818.9" font-size="12" text-anchor="middle" fill="#111" stroke="#111">15</text>
<text x="313.72" y="818.9" font-size="12" text-anchor="middle" fill="#111" stroke="#111">18</text>
<text x="339.56" y="818.9" font-size="12" text-anchor="middle" fill="#111" stroke="#111">21</text>
<text x="365.41" y="818.9" font-size="12" text-anchor="middle" fill="#111" stroke="#111">24</text>
<text x="391.25" y="818.9" font-size="12" text-anchor="middle" fill="#111" stroke="#111">27</text>
<text x="417.1" y="818.9" font-size="12" text-anchor="middle" fill="#111" stroke="#111">30</text>
<text x="442.95" y="818.9" font-size="12" text-anchor="middle" fill="#111" stroke="#111">33</text>
<text x="468.79" y="818.9" font-size="12" text-anchor="middle" fill="#111" stroke="#111">36</text>
<text x="494.63" y="818.9" font-size="12" text-anchor="middle" fill="#111" stroke="#111">39</text>
<text x="520.48" y="818.9" font-size="12" text-anchor="middle" fill="#111" stroke="#111">42</text>
<text x="546.32" y="818.9" font-size="12" text-anchor="middle" fill="#111" stroke="#111">45</text>
<text x="572.17" y="818.9" font-size="12" text-anchor="middle" fill="#111" stroke="#111">48</text>
<text x="598.01" y="818.9" font-size="12" text-anchor="middle" fill="#111" stroke="#111">51</text>
<text x="623.86" y="818.9" font-size="12" text-anchor="middle" fill="#111" stroke="#111">54</text>
<text x="649.71" y="818.9" font-size="12" text-anchor="middle" fill="#111" stroke="#111">57</text>
<text x="675.55" y="818.9" font-size="12" text-anchor="middle" fill="#111" stroke="#111">60</text>
<text x="408.8" y="837.4" font-size="12.4" text-anchor="middle" fill="#111" stroke="#111">Time (months) up to 5 years</text>
<path d="M144.74 869.45V1111.8M170.66 869.45V1111.8M196.59 869.45V1111.8M222.51 869.45V1111.8M248.44 869.45V1111.8M274.36 869.45V1111.8M300.29 869.45V1111.8M326.21 869.45V1111.8M352.14 869.45V1111.8M378.06 869.45V1111.8M403.99 869.45V1111.8M429.91 869.45V1111.8M455.84 869.45V1111.8M481.76 869.45V1111.8M507.69 869.45V1111.8M533.61 869.45V1111.8M559.54 869.45V1111.8M585.46 869.45V1111.8M611.39 869.45V1111.8M637.31 869.45V1111.8M663.24 869.45V1111.8M133.6 1073.21H683.6M133.6 1018.04H683.6M133.6 962.86H683.6M133.6 907.69H683.6" stroke="#F4F4F4" stroke-width="0.6" fill="none"/>
<path d="M157.7 869.45V1111.8M183.62 869.45V1111.8M209.55 869.45V1111.8M235.47 869.45V1111.8M261.4 869.45V1111.8M287.32 869.45V1111.8M313.25 869.45V1111.8M339.18 869.45V1111.8M365.1 869.45V1111.8M391.02 869.45V1111.8M416.95 869.45V1111.8M442.88 869.45V1111.8M468.8 869.45V1111.8M494.73 869.45V1111.8M520.65 869.45V1111.8M546.58 869.45V1111.8M572.5 869.45V1111.8M598.42 869.45V1111.8M624.35 869.45V1111.8M650.28 869.45V1111.8M676.2 869.45V1111.8M133.6 1100.8H683.6M133.6 1045.62H683.6M133.6 990.45H683.6M133.6 935.27H683.6M133.6 880.1H683.6" stroke="#EBEBEB" stroke-width="0.7" fill="none"/>
<path d="M158.1 880.1H159.6V880.1H167.3V880.6H168.3V886.2H172.4V888.3H175.4V890.3H177.5V895.4H180.5V899.5H183.6V904.6H187.7V907.7H189.7V912.8H197.9V915.9H200V917.9H206.1V922H208.1V927.1H212.2V932.2H213.8V941.4H219V942.6H221.4V953.9H233.5V953.9H234.3V957.1H261.6V957.9H263.2V960.3H270.4V961.1H272V969.9H278.4V970.7H279.2V976.4H294.5V977.2H295.3V980.4H325V981.1H336.1V981.1H336.9V983.5H347.3V983.8H348.1V987.5H374.3V987.5H374.9V990.7H413.9V990.7H414.7V993.9H430V993.9H535V993.9H536.8V993.9H537.9V998.4H683.4V998.4L683.4 1049.8V1049.8H537.9V1045.9H536.8V1045.9H535V1045.8H430V1045.8H414.7V1042.9H413.9V1042.6H374.9V1039.7H374.3V1039.4H348.1V1036.5H347.3V1036.5H336.9V1033.3H336.1V1033H325V1033.4H295.3V1030.9H294.5V1030.1H283.2V1026.9H280V1024.5H278.4V1023.7H273.6V1019.7H272V1014.9H270.4V1014.1H263.2V1010.9H262.4V1010.9H235.1V1008.5H233.5V1007.7H222.2V994H219V975H209.2V971.1H208.1V967H205.1V964.9H200V959.8H197.9V957.8H190.8V952.7H189.7V950.6H185.1V944.5H183.6V940.4H181.6V936.3H178.5V929.2H177V926.1H175.4V924.1H172.4V921H169.3V915.9H167.8V907.7H166.8V900.5H165.2V895.4H163.7V890.3H162.2V884.2H160.6V880.1H159.6V880.1H158.1Z" fill="#E3165B" fill-opacity="0.32"/>
<path d="M158.1 880.1H167.3V880.1H169.3V881.1H171.9V882.7H177.5V883.7H178.5V887.8H182.1V888.8H183.6V891.4H185.7V893.4H187.7V895.4H189.7V897.5H190.8V899.5H197.9V900H198.4V905.7H213.8V906.2H214.3V909.2H219V909.7H225.4V909.7H226.2V912.9H233.5V913.4H234.3V916.1H267.2V916.1H268V919.3H302.5V919.3H303.3V922.6H308.1V923H308.9V926.6H322.6V926.6H323.4V929.8H325V929.7H393.9V929.7H394.7V933.7H430V933.7H433.8V933.7H434.3V936.9H535V937.3H597.9V937.3H598.6V941.2H663.5V941.2H664.2V945.7H683.4V945.7L683.4 1004.5V1004.5H664.2V998.4H663.5V998.4H598.6V995H597.9V995H537.9V993.9H536.8V993.9H535V993.9H434.3V990.7H433.8V990.7H430V990.7H394.7V986.7H393.9V986.7H336.9V985.1H336.1V985.1H325V985.2H324.2V980.4H323.4V980.4H308.9V979.6H308.1V978.8H295.3V975.5H294.5V974.7H279.2V973.9H278.4V972.8H272V971.5H270.4V970.7H263.2V968.3H261.6V968.3H234.3V960.3H233.5V960.3H221.4V960.3H219V959.8H213.2V955.2H212.2V954.7H198.4V947H197.9V946.5H190.8V940.4H190.3V936.3H185.7V930.7H184.6V924.1H177.5V915.9H176.5V915.9H169.3V900.5H167.8V880.1H167.3V880.1H158.1Z" fill="#F5A41D" fill-opacity="0.3"/>
<path d="M158.1 880.1H159.6V880.1H160.6V882.2H161.6V884.7H162.7V887.3H164.2V889.3H165.2V890.3H166V893.9H166.8V898.5H167.8V903.1H169.8V905.7H170.3V907.5H174.9V907.5H176.5V910.3H177.5V913.8H178.5V920H180.5V921H182.6V924.1H183.6V926.1H184.6V930.2H188.7V930.2H190.3V934.3H190.8V936.8H196.9V936.8H197.9V939.4H199.5V942.4H200.5V944H205.1V944H206.1V947.6H208.1V950.1H209.2V951.6H211.2V954.2H212.2V956.8H212.7V964.9H213.8V970.5H219V970.5H219.5V970.5H220.6V979.6H222.2V983.6H233.5V983.6H235.1V986.8H262.4V986.8H263.2V990.5H270.4V990.5H272V995.6H273.6V1000.4H278.4V1000.4H280V1003.6H283.2V1007.7H294.5V1007.7H295.3V1010.9H325V1010.9H336.1V1010.9H336.9V1014.3H347.3V1014.3H348.1V1017.5H374.3V1017.5H374.9V1020.8H413.9V1020.8H414.7V1024.5H430V1024.5H535V1024.5H536.8V1024.5H537.9V1029H683.4V1029" stroke="#E3165B" stroke-width="1.4" fill="none"/>
<path d="M158.1 880.1H167.3V880.1H167.8V883.7H168.3V887.3H169.3V894.9H169.8V896.5H171.9V896.5H172.4V900H177.5V900H178.5V907.7H181.6V908.7H183.6V910.8H185.1V912.8H186.7V915.4H187.7V916.9H189.7V920H190.8V924.1H197.9V924.1H198.4V932.2H212.2V932.2H213.8V933.8H214.3V936.3H219V936.3H225.4V936.3H227V940.2H233.5V940.2H234.3V944.6H267.2V944.6H268V948.7H302.5V948.7H304.1V953.1H308.1V953.1H308.9V956.8H323.4V956.8H324.2V960.3H325V960.3H393.9V960.3H394.7V965H430V965H433.8V965H434.6V969.1H535V969.1H597.9V969.1H598.6V973.5H663.5V973.5H664.2V978.7H683.4V978.7" stroke="#F5A41D" stroke-width="1.3" fill="none"/>
<path d="M399 1018.6V1023M396.8 1020.8H401.2" stroke="#E3165B" stroke-width="1.15"/>
<path d="M406.7 1018.6V1023M404.5 1020.8H408.9" stroke="#E3165B" stroke-width="1.15"/>
<path d="M366.9 958.1V962.5M364.7 960.3H369.1" stroke="#F5A41D" stroke-width="1.15"/>
<path d="M404.8 962.8V967.2M402.6 965H407" stroke="#F5A41D" stroke-width="1.15"/>
<path d="M432.2 1022.3V1026.7M430 1024.5H434.4" stroke="#E3165B" stroke-width="1.15"/>
<path d="M496.1 1022.3V1026.7M493.9 1024.5H498.3" stroke="#E3165B" stroke-width="1.15"/>
<path d="M514.9 1022.3V1026.7M512.7 1024.5H517.1" stroke="#E3165B" stroke-width="1.15"/>
<path d="M466.4 966.9V971.3M464.2 969.1H468.6" stroke="#F5A41D" stroke-width="1.15"/>
<path d="M481.5 966.9V971.3M479.3 969.1H483.7" stroke="#F5A41D" stroke-width="1.15"/>
<path d="M487.9 966.9V971.3M485.7 969.1H490.1" stroke="#F5A41D" stroke-width="1.15"/>
<path d="M540.9 1026.8V1031.2M538.7 1029H543.1" stroke="#E3165B" stroke-width="1.15"/>
<path d="M565.5 1026.8V1031.2M563.3 1029H567.7" stroke="#E3165B" stroke-width="1.15"/>
<path d="M578.2 1026.8V1031.2M576 1029H580.4" stroke="#E3165B" stroke-width="1.15"/>
<path d="M659.4 1026.8V1031.2M657.2 1029H661.6" stroke="#E3165B" stroke-width="1.15"/>
<path d="M677.5 1026.8V1031.2M675.3 1029H679.7" stroke="#E3165B" stroke-width="1.15"/>
<path d="M640.4 971.3V975.7M638.2 973.5H642.6" stroke="#F5A41D" stroke-width="1.15"/>
<path d="M646.5 971.3V975.7M644.3 973.5H648.7" stroke="#F5A41D" stroke-width="1.15"/>
<path d="M133.6 869.45H683.6" stroke="#ACACAC" stroke-width="1.1" fill="none"/>
<path d="M133.6 1111.8V869.45" stroke="#C2C2C2" stroke-width="0.8" fill="none"/>
<path d="M684 869.45V1111.8" stroke="#A8A8A8" stroke-width="1.3" fill="none"/>
<path d="M133.3 1111.8H684.6" stroke="#9C9C9C" stroke-width="1.2" fill="none"/>
<path d="M131.2 1100.8H133.6M131.2 1045.62H133.6M131.2 990.45H133.6M131.2 935.27H133.6M131.2 880.1H133.6M157.7 1111.8V1114.2M183.62 1111.8V1114.2M209.55 1111.8V1114.2M235.47 1111.8V1114.2M261.4 1111.8V1114.2M287.32 1111.8V1114.2M313.25 1111.8V1114.2M339.18 1111.8V1114.2M365.1 1111.8V1114.2M391.02 1111.8V1114.2M416.95 1111.8V1114.2M442.88 1111.8V1114.2M468.8 1111.8V1114.2M494.73 1111.8V1114.2M520.65 1111.8V1114.2M546.58 1111.8V1114.2M572.5 1111.8V1114.2M598.42 1111.8V1114.2M624.35 1111.8V1114.2M650.28 1111.8V1114.2M676.2 1111.8V1114.2" stroke="#555" stroke-width="0.8" fill="none"/>
<text x="126.3" y="1105.1" font-size="12" text-anchor="end" fill="#111" stroke="#111">0.00</text>
<text x="126.3" y="1049.92" font-size="12" text-anchor="end" fill="#111" stroke="#111">0.25</text>
<text x="126.3" y="994.75" font-size="12" text-anchor="end" fill="#111" stroke="#111">0.50</text>
<text x="126.3" y="939.57" font-size="12" text-anchor="end" fill="#111" stroke="#111">0.75</text>
<text x="126.3" y="884.4" font-size="12" text-anchor="end" fill="#111" stroke="#111">1.00</text>
<text x="158.65" y="1128.5" font-size="12" text-anchor="middle" fill="#111" stroke="#111">0</text>
<text x="184.5" y="1128.5" font-size="12" text-anchor="middle" fill="#111" stroke="#111">3</text>
<text x="210.34" y="1128.5" font-size="12" text-anchor="middle" fill="#111" stroke="#111">6</text>
<text x="236.19" y="1128.5" font-size="12" text-anchor="middle" fill="#111" stroke="#111">9</text>
<text x="262.03" y="1128.5" font-size="12" text-anchor="middle" fill="#111" stroke="#111">12</text>
<text x="287.88" y="1128.5" font-size="12" text-anchor="middle" fill="#111" stroke="#111">15</text>
<text x="313.72" y="1128.5" font-size="12" text-anchor="middle" fill="#111" stroke="#111">18</text>
<text x="339.56" y="1128.5" font-size="12" text-anchor="middle" fill="#111" stroke="#111">21</text>
<text x="365.41" y="1128.5" font-size="12" text-anchor="middle" fill="#111" stroke="#111">24</text>
<text x="391.25" y="1128.5" font-size="12" text-anchor="middle" fill="#111" stroke="#111">27</text>
<text x="417.1" y="1128.5" font-size="12" text-anchor="middle" fill="#111" stroke="#111">30</text>
<text x="442.95" y="1128.5" font-size="12" text-anchor="middle" fill="#111" stroke="#111">33</text>
<text x="468.79" y="1128.5" font-size="12" text-anchor="middle" fill="#111" stroke="#111">36</text>
<text x="494.63" y="1128.5" font-size="12" text-anchor="middle" fill="#111" stroke="#111">39</text>
<text x="520.48" y="1128.5" font-size="12" text-anchor="middle" fill="#111" stroke="#111">42</text>
<text x="546.32" y="1128.5" font-size="12" text-anchor="middle" fill="#111" stroke="#111">45</text>
<text x="572.17" y="1128.5" font-size="12" text-anchor="middle" fill="#111" stroke="#111">48</text>
<text x="598.01" y="1128.5" font-size="12" text-anchor="middle" fill="#111" stroke="#111">51</text>
<text x="623.86" y="1128.5" font-size="12" text-anchor="middle" fill="#111" stroke="#111">54</text>
<text x="649.71" y="1128.5" font-size="12" text-anchor="middle" fill="#111" stroke="#111">57</text>
<text x="675.55" y="1128.5" font-size="12" text-anchor="middle" fill="#111" stroke="#111">60</text>
<text x="394.3" y="1145" font-size="12.4" text-anchor="middle" fill="#111" stroke="#111">Time (months) up to 5 years</text>
<text transform="translate(92.9 990.45) rotate(-90)" font-size="12.4" text-anchor="middle" fill="#111" stroke="#111">Survival probability</text>
<text x="186" y="1059.8" font-size="12.55" fill="#111" stroke="#111"><tspan font-style="italic">P</tspan><tspan dx="-1.6">&#160;= 0.0085</tspan></text>
<path d="M144.74 1162.7V1226.3M170.66 1162.7V1226.3M196.59 1162.7V1226.3M222.51 1162.7V1226.3M248.44 1162.7V1226.3M274.36 1162.7V1226.3M300.29 1162.7V1226.3M326.21 1162.7V1226.3M352.14 1162.7V1226.3M378.06 1162.7V1226.3M403.99 1162.7V1226.3M429.91 1162.7V1226.3M455.84 1162.7V1226.3M481.76 1162.7V1226.3M507.69 1162.7V1226.3M533.61 1162.7V1226.3M559.54 1162.7V1226.3M585.46 1162.7V1226.3M611.39 1162.7V1226.3M637.31 1162.7V1226.3M663.24 1162.7V1226.3" stroke="#F4F4F4" stroke-width="0.6" fill="none"/>
<path d="M157.7 1162.7V1226.3M183.62 1162.7V1226.3M209.55 1162.7V1226.3M235.47 1162.7V1226.3M261.4 1162.7V1226.3M287.32 1162.7V1226.3M313.25 1162.7V1226.3M339.18 1162.7V1226.3M365.1 1162.7V1226.3M391.02 1162.7V1226.3M416.95 1162.7V1226.3M442.88 1162.7V1226.3M468.8 1162.7V1226.3M494.73 1162.7V1226.3M520.65 1162.7V1226.3M546.58 1162.7V1226.3M572.5 1162.7V1226.3M598.42 1162.7V1226.3M624.35 1162.7V1226.3M650.28 1162.7V1226.3M676.2 1162.7V1226.3M133.6 1180.05H683.6M133.6 1208.95H683.6" stroke="#EBEBEB" stroke-width="0.7" fill="none"/>
<path d="M133.6 1162.7H683.6" stroke="#CDCDCD" stroke-width="1.1" fill="none"/>
<path d="M133.6 1226.3V1162.7" stroke="#C2C2C2" stroke-width="0.8" fill="none"/>
<path d="M684 1162.7V1226.3" stroke="#A8A8A8" stroke-width="1.3" fill="none"/>
<path d="M133.3 1226.3H684.6" stroke="#9C9C9C" stroke-width="1.3" fill="none"/>
<path d="M131.2 1180.05H133.6M131.2 1208.95H133.6M157.7 1226.3V1228.7M183.62 1226.3V1228.7M209.55 1226.3V1228.7M235.47 1226.3V1228.7M261.4 1226.3V1228.7M287.32 1226.3V1228.7M313.25 1226.3V1228.7M339.18 1226.3V1228.7M365.1 1226.3V1228.7M391.02 1226.3V1228.7M416.95 1226.3V1228.7M442.88 1226.3V1228.7M468.8 1226.3V1228.7M494.73 1226.3V1228.7M520.65 1226.3V1228.7M546.58 1226.3V1228.7M572.5 1226.3V1228.7M598.42 1226.3V1228.7M624.35 1226.3V1228.7M650.28 1226.3V1228.7M676.2 1226.3V1228.7" stroke="#555" stroke-width="0.8" fill="none"/>
<text x="158.65" y="1183.55" font-size="12" text-anchor="middle" fill="#111" stroke="#111">66</text>
<text x="184.5" y="1183.55" font-size="12" text-anchor="middle" fill="#111" stroke="#111">52</text>
<text x="210.34" y="1183.55" font-size="12" text-anchor="middle" fill="#111" stroke="#111">44</text>
<text x="236.19" y="1183.55" font-size="12" text-anchor="middle" fill="#111" stroke="#111">34</text>
<text x="262.03" y="1183.55" font-size="12" text-anchor="middle" fill="#111" stroke="#111">34</text>
<text x="287.88" y="1183.55" font-size="12" text-anchor="middle" fill="#111" stroke="#111">28</text>
<text x="313.72" y="1183.55" font-size="12" text-anchor="middle" fill="#111" stroke="#111">27</text>
<text x="339.56" y="1183.55" font-size="12" text-anchor="middle" fill="#111" stroke="#111">26</text>
<text x="365.41" y="1183.55" font-size="12" text-anchor="middle" fill="#111" stroke="#111">25</text>
<text x="391.25" y="1183.55" font-size="12" text-anchor="middle" fill="#111" stroke="#111">24</text>
<text x="417.1" y="1183.55" font-size="12" text-anchor="middle" fill="#111" stroke="#111">21</text>
<text x="442.95" y="1183.55" font-size="12" text-anchor="middle" fill="#111" stroke="#111">20</text>
<text x="468.79" y="1183.55" font-size="12" text-anchor="middle" fill="#111" stroke="#111">20</text>
<text x="494.63" y="1183.55" font-size="12" text-anchor="middle" fill="#111" stroke="#111">20</text>
<text x="520.48" y="1183.55" font-size="12" text-anchor="middle" fill="#111" stroke="#111">18</text>
<text x="546.32" y="1183.55" font-size="12" text-anchor="middle" fill="#111" stroke="#111">16</text>
<text x="572.17" y="1183.55" font-size="12" text-anchor="middle" fill="#111" stroke="#111">15</text>
<text x="598.01" y="1183.55" font-size="12" text-anchor="middle" fill="#111" stroke="#111">14</text>
<text x="623.86" y="1183.55" font-size="12" text-anchor="middle" fill="#111" stroke="#111">14</text>
<text x="649.71" y="1183.55" font-size="12" text-anchor="middle" fill="#111" stroke="#111">14</text>
<text x="675.55" y="1183.55" font-size="12" text-anchor="middle" fill="#111" stroke="#111">13</text>
<text x="158.65" y="1212.45" font-size="12" text-anchor="middle" fill="#111" stroke="#111">55</text>
<text x="184.5" y="1212.45" font-size="12" text-anchor="middle" fill="#111" stroke="#111">47</text>
<text x="210.34" y="1212.45" font-size="12" text-anchor="middle" fill="#111" stroke="#111">42</text>
<text x="236.19" y="1212.45" font-size="12" text-anchor="middle" fill="#111" stroke="#111">39</text>
<text x="262.03" y="1212.45" font-size="12" text-anchor="middle" fill="#111" stroke="#111">39</text>
<text x="287.88" y="1212.45" font-size="12" text-anchor="middle" fill="#111" stroke="#111">38</text>
<text x="313.72" y="1212.45" font-size="12" text-anchor="middle" fill="#111" stroke="#111">36</text>
<text x="339.56" y="1212.45" font-size="12" text-anchor="middle" fill="#111" stroke="#111">35</text>
<text x="365.41" y="1212.45" font-size="12" text-anchor="middle" fill="#111" stroke="#111">35</text>
<text x="391.25" y="1212.45" font-size="12" text-anchor="middle" fill="#111" stroke="#111">34</text>
<text x="417.1" y="1212.45" font-size="12" text-anchor="middle" fill="#111" stroke="#111">32</text>
<text x="442.95" y="1212.45" font-size="12" text-anchor="middle" fill="#111" stroke="#111">31</text>
<text x="468.79" y="1212.45" font-size="12" text-anchor="middle" fill="#111" stroke="#111">30</text>
<text x="494.63" y="1212.45" font-size="12" text-anchor="middle" fill="#111" stroke="#111">28</text>
<text x="520.48" y="1212.45" font-size="12" text-anchor="middle" fill="#111" stroke="#111">28</text>
<text x="546.32" y="1212.45" font-size="12" text-anchor="middle" fill="#111" stroke="#111">28</text>
<text x="572.17" y="1212.45" font-size="12" text-anchor="middle" fill="#111" stroke="#111">28</text>
<text x="598.01" y="1212.45" font-size="12" text-anchor="middle" fill="#111" stroke="#111">27</text>
<text x="623.86" y="1212.45" font-size="12" text-anchor="middle" fill="#111" stroke="#111">27</text>
<text x="649.71" y="1212.45" font-size="12" text-anchor="middle" fill="#111" stroke="#111">25</text>
<text x="675.55" y="1212.45" font-size="12" text-anchor="middle" fill="#111" stroke="#111">24</text>
<text x="129" y="1183.95" font-size="12.45" text-anchor="end" fill="#E3165B" stroke="#E3165B">log10TRECs &lt; 1.4</text>
<text x="129" y="1212.85" font-size="12.45" text-anchor="end" fill="#F4B942" stroke="#F4B942">log10TRECs &gt;= 1.4</text>
<text transform="translate(9.6 1198.5) rotate(-90)" font-size="12.3" text-anchor="middle" fill="#111" stroke="#111">Strata</text>
<text x="123.2" y="1159.8" font-size="12.35" fill="#111" stroke="#111" style="white-space:pre">Number  at risk</text>
<text x="158.65" y="1243.2" font-size="12" text-anchor="middle" fill="#111" stroke="#111">0</text>
<text x="184.5" y="1243.2" font-size="12" text-anchor="middle" fill="#111" stroke="#111">3</text>
<text x="210.34" y="1243.2" font-size="12" text-anchor="middle" fill="#111" stroke="#111">6</text>
<text x="236.19" y="1243.2" font-size="12" text-anchor="middle" fill="#111" stroke="#111">9</text>
<text x="262.03" y="1243.2" font-size="12" text-anchor="middle" fill="#111" stroke="#111">12</text>
<text x="287.88" y="1243.2" font-size="12" text-anchor="middle" fill="#111" stroke="#111">15</text>
<text x="313.72" y="1243.2" font-size="12" text-anchor="middle" fill="#111" stroke="#111">18</text>
<text x="339.56" y="1243.2" font-size="12" text-anchor="middle" fill="#111" stroke="#111">21</text>
<text x="365.41" y="1243.2" font-size="12" text-anchor="middle" fill="#111" stroke="#111">24</text>
<text x="391.25" y="1243.2" font-size="12" text-anchor="middle" fill="#111" stroke="#111">27</text>
<text x="417.1" y="1243.2" font-size="12" text-anchor="middle" fill="#111" stroke="#111">30</text>
<text x="442.95" y="1243.2" font-size="12" text-anchor="middle" fill="#111" stroke="#111">33</text>
<text x="468.79" y="1243.2" font-size="12" text-anchor="middle" fill="#111" stroke="#111">36</text>
<text x="494.63" y="1243.2" font-size="12" text-anchor="middle" fill="#111" stroke="#111">39</text>
<text x="520.48" y="1243.2" font-size="12" text-anchor="middle" fill="#111" stroke="#111">42</text>
<text x="546.32" y="1243.2" font-size="12" text-anchor="middle" fill="#111" stroke="#111">45</text>
<text x="572.17" y="1243.2" font-size="12" text-anchor="middle" fill="#111" stroke="#111">48</text>
<text x="598.01" y="1243.2" font-size="12" text-anchor="middle" fill="#111" stroke="#111">51</text>
<text x="623.86" y="1243.2" font-size="12" text-anchor="middle" fill="#111" stroke="#111">54</text>
<text x="649.71" y="1243.2" font-size="12" text-anchor="middle" fill="#111" stroke="#111">57</text>
<text x="675.55" y="1243.2" font-size="12" text-anchor="middle" fill="#111" stroke="#111">60</text>
<text x="394.6" y="1261.9" font-size="12.4" text-anchor="middle" fill="#111" stroke="#111">Time (months) up to 5 years</text>
<text transform="translate(0.6 12) scale(1 1.1)" font-size="20" font-weight="bold" fill="#000">a</text>
<text x="0.8" y="445.5" font-size="20.5" font-weight="bold" fill="#000">b</text>
<text transform="translate(0.5 874.8) scale(1 1.12)" font-size="20" font-weight="bold" fill="#000">c</text>
</svg></body></html>
